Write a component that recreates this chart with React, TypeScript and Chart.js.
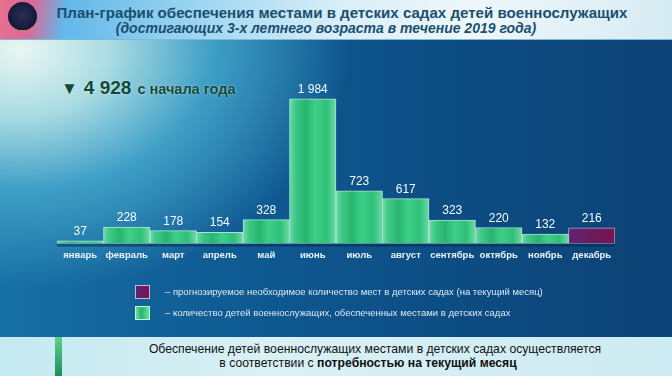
import React, { useEffect, useRef } from "react";
import { Chart, registerables } from "chart.js";

Chart.register(...registerables);

const months = ["январь", "февраль", "март", "апрель", "май", "июнь", "июль", "август", "сентябрь", "октябрь", "ноябрь", "декабрь"];
const providedPlaces = [37, 228, 178, 154, 328, 1984, 723, 617, 323, 220, 132, null];
const forecastPlaces = [null, null, null, null, null, null, null, null, null, null, null, 216];
const totalLabel = "4 928";
const yMax = 2200;

const fmt = (v: number) => String(v).replace(/\B(?=(\d{3})+(?!\d))/g, " ");

function barGradient(ctx: any, stops: [number, string][], fallback: string) {
  const chart = ctx.chart;
  const xs = chart.scales && chart.scales.x;
  if (!chart.chartArea || !xs) return fallback;
  const cx = xs.getPixelForValue(ctx.dataIndex);
  const w = (chart.chartArea.right - chart.chartArea.left) / months.length;
  const g = chart.ctx.createLinearGradient(cx - w / 2, 0, cx + w / 2, 0);
  stops.forEach(([o, c]) => g.addColorStop(o, c));
  return g;
}

const valueLabels = {
  id: "valueLabels",
  beforeDatasetsDraw(chart: any) {
    const { ctx, chartArea } = chart;
    ctx.save();
    ctx.fillStyle = "rgba(8,40,75,0.55)";
    ctx.fillRect(chartArea.left, chartArea.bottom, chartArea.right - chartArea.left, 3);
    ctx.restore();
  },
  afterDatasetsDraw(chart: any) {
    const { ctx } = chart;
    ctx.save();
    ctx.font = "12px 'Liberation Sans', Arial, sans-serif";
    ctx.fillStyle = "#f4fbff";
    ctx.textAlign = "center";
    ctx.textBaseline = "alphabetic";
    chart.data.datasets.forEach((ds: any, di: number) => {
      const meta = chart.getDatasetMeta(di);
      meta.data.forEach((bar: any, i: number) => {
        const v = ds.data[i];
        if (v == null) return;
        ctx.fillText(fmt(v), bar.x, bar.y - 6);
      });
    });
    ctx.restore();
  },
};

export default function App() {
  const ref = useRef<HTMLCanvasElement>(null);
  useEffect(() => {
    const chart = new Chart(ref.current!, {
      type: "bar",
      data: {
        labels: months,
        datasets: [
          {
            label: "количество детей военнослужащих, обеспеченных местами в детских садах",
            data: providedPlaces,
            backgroundColor: (c: any) =>
              barGradient(
                c,
                [
                  [0, "#6edba8"],
                  [0.12, "#3fc98a"],
                  [0.35, "#27b56e"],
                  [0.55, "#3dcf88"],
                  [0.8, "#2fbf78"],
                  [1, "#6bdca6"],
                ],
                "#3cc584"
              ),
            borderColor: "rgba(200,248,222,0.85)",
            borderWidth: 1,
            borderSkipped: false,
            barPercentage: 1,
            categoryPercentage: 1,
          },
          {
            label: "прогнозируемое необходимое количество мест в детских садах (на текущий месяц)",
            data: forecastPlaces,
            backgroundColor: (c: any) =>
              barGradient(
                c,
                [
                  [0, "#5b2674"],
                  [0.5, "#6c1a5c"],
                  [1, "#7a1250"],
                ],
                "#6a1b5a"
              ),
            borderColor: "rgba(210,190,230,0.8)",
            borderWidth: 1,
            borderSkipped: false,
            barPercentage: 1,
            categoryPercentage: 1,
          },
        ] as any,
      },
      options: {
        animation: false,
        responsive: false,
        maintainAspectRatio: false,
        layout: { padding: { left: 57, right: 57, top: 83, bottom: 109 } },
        plugins: { legend: { display: false }, tooltip: { enabled: false } },
        scales: {
          x: {
            stacked: true,
            grid: { display: false, drawTicks: false },
            border: { display: false },
            ticks: {
              color: "#eaf4fb",
              padding: 6,
              maxRotation: 0,
              autoSkip: false,
              font: { family: "'Liberation Sans', Arial, sans-serif", size: 9.5, weight: "bold" },
            },
          },
          y: { stacked: true, display: false, min: 0, max: yMax },
        },
      },
      plugins: [valueLabels],
    });
    return () => chart.destroy();
  }, []);

  const font = "'Liberation Sans', Arial, sans-serif";
  return (
    <div
      style={{
        position: "fixed",
        left: 0,
        top: 0,
        width: 672,
        height: 376,
        overflow: "hidden",
        fontFamily: font,
        background:
          "radial-gradient(ellipse 330px 240px at 20px 50px, #eaf7f3 0%, #a8dbe2 28%, #3f9fc6 58%, rgba(20,100,160,0) 100%), linear-gradient(90deg, #166fa4 0%, #0e5890 40%, #0c4c82 70%, #0d4275 100%)",
      }}
    >
      {/* header */}
      <div
        style={{
          position: "absolute",
          left: 0,
          top: 0,
          width: 672,
          height: 39,
          background:
            "linear-gradient(100deg, #e8708e 0%, #d86a9a 5%, #62b8e8 10%, #9fd6f2 30%, #d8eef8 50%, #eef7fb 70%, #d6ebf4 100%)",
          borderBottom: "1px solid #7fb9d4",
        }}
      >
        <div
          style={{
            position: "absolute",
            left: 8,
            top: 2,
            width: 29,
            height: 29,
            borderRadius: "50%",
            background: "radial-gradient(circle at 50% 45%, #2b2d55 0%, #16183a 70%, #c9a24a 72%, #1c1c3c 80%)",
          }}
        />
        <div
          style={{
            position: "absolute",
            left: 0,
            width: 672,
            top: 4,
            textAlign: "center",
            paddingLeft: 12,
            boxSizing: "border-box",
            fontSize: 15.1,
            fontWeight: "bold",
            color: "#1a4f6e",
            whiteSpace: "nowrap",
            lineHeight: "17px",
          }}
        >
          План-график обеспечения местами в детских садах детей военнослужащих
        </div>
        <div
          style={{
            position: "absolute",
            left: 0,
            width: 652,
            top: 20,
            textAlign: "center",
            fontSize: 14,
            fontWeight: "bold",
            fontStyle: "italic",
            color: "#1a4f6e",
            whiteSpace: "nowrap",
            lineHeight: "16px",
          }}
        >
          (достигающих 3-х летнего возраста в течение 2019 года)
        </div>
      </div>

      {/* total */}
      <div
        style={{
          position: "absolute",
          left: 61,
          top: 77,
          fontWeight: "bold",
          color: "#0d4a3a",
          whiteSpace: "nowrap",
          lineHeight: "22px",
          textShadow: "0 0 2px rgba(255,255,255,0.7)",
        }}
      >
        <span style={{ fontSize: 17 }}>▼</span>
        <span style={{ fontSize: 19, marginLeft: 6 }}>{totalLabel}</span>
        <span style={{ fontSize: 14.5, marginLeft: 6 }}>с начала года</span>
      </div>

      <canvas ref={ref} width={672} height={376} style={{ position: "absolute", left: 0, top: 0, width: 672, height: 376 }} />

      {/* legend */}
      <div style={{ position: "absolute", left: 135, top: 285, width: 15, height: 14, background: "linear-gradient(90deg,#5b2674,#7a1250)", border: "1px solid #c8b6d8", boxSizing: "border-box" }} />
      <div style={{ position: "absolute", left: 165, top: 286, fontSize: 9.5, color: "#dbe9f3", whiteSpace: "nowrap", lineHeight: "12px" }}>
        – прогнозируемое необходимое количество мест в детских садах (на текущий месяц)
      </div>
      <div style={{ position: "absolute", left: 135, top: 306, width: 15, height: 14, background: "linear-gradient(90deg,#6edba8,#27b56e 40%,#3dcf88 70%,#6bdca6)", border: "1px solid #c8f4dc", boxSizing: "border-box" }} />
      <div style={{ position: "absolute", left: 165, top: 307, fontSize: 9.5, color: "#dbe9f3", whiteSpace: "nowrap", lineHeight: "12px" }}>
        – количество детей военнослужащих, обеспеченных местами в детских садах
      </div>

      {/* bottom strip */}
      <div
        style={{
          position: "absolute",
          left: 0,
          top: 337,
          width: 672,
          height: 39,
          background: "linear-gradient(90deg, #c4e8f0 0%, #d9f1f5 40%, #cdebf2 100%)",
        }}
      >
        <div style={{ position: "absolute", left: 55, top: 0, width: 7, height: 39, background: "linear-gradient(180deg,#5ed08e,#1c8f5a)" }} />
        <div style={{ position: "absolute", left: 75, width: 600, top: 4, textAlign: "center", fontSize: 12.2, color: "#111", lineHeight: "16px", whiteSpace: "nowrap" }}>
          Обеспечение детей военнослужащих местами в детских садах осуществляется
        </div>
        <div style={{ position: "absolute", left: 68, width: 600, top: 18, textAlign: "center", fontSize: 12.2, color: "#111", lineHeight: "16px", whiteSpace: "nowrap" }}>
          в соответствии с <b>потребностью на текущий месяц</b>
        </div>
      </div>
    </div>
  );
}
